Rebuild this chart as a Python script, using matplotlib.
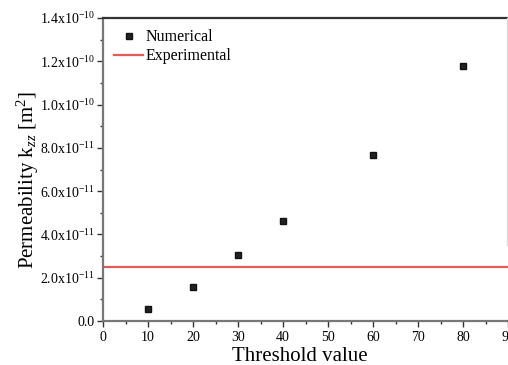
import math
import matplotlib
matplotlib.use("Agg")
import matplotlib.pyplot as plt
from matplotlib.ticker import FuncFormatter, MultipleLocator

plt.rcParams["font.family"] = ["Liberation Serif", "DejaVu Serif"]
plt.rcParams["mathtext.fontset"] = "custom"
plt.rcParams["mathtext.rm"] = "Liberation Serif"
plt.rcParams["mathtext.it"] = "Liberation Serif:italic"

# Data
thresholds = [10, 20, 30, 40, 60, 80]
permeability = [5.4e-12, 1.55e-11, 3.05e-11, 4.6e-11, 7.65e-11, 1.18e-10]
experimental = 2.5e-11

fig = plt.figure(figsize=(5.08, 3.65), dpi=100)
ax = fig.add_axes([0.2028, 0.1205, 0.8858, 0.8301])

ax.plot(thresholds, permeability, linestyle="none", marker="s", markersize=5,
        color="#222222", markeredgecolor="#111111", label="Numerical")
ax.axhline(experimental, color="#e65a5a", linewidth=1.6, label="Experimental")

ax.set_xlim(0, 100)
ax.set_ylim(0, 1.4e-10)
ax.xaxis.set_major_locator(MultipleLocator(10))
ax.xaxis.set_minor_locator(MultipleLocator(5))
ax.yaxis.set_major_locator(MultipleLocator(2e-11))
ax.yaxis.set_minor_locator(MultipleLocator(1e-11))


def sci_fmt(v, pos):
    if abs(v) < 1e-20:
        return "0.0"
    e = int(math.floor(math.log10(abs(v))))
    m = v / 10 ** e
    return "%.1fx10$^{%d}$" % (m, e)


ax.yaxis.set_major_formatter(FuncFormatter(sci_fmt))
ax.xaxis.set_major_formatter(FuncFormatter(lambda v, p: "%d" % v))

ax.tick_params(axis="both", which="major", direction="out", length=4, width=1,
               color="#333333", labelsize=10)
ax.tick_params(axis="both", which="minor", direction="out", length=2.5, width=1,
               color="#333333")
ax.tick_params(axis="y", pad=2)

for side in ["left", "bottom"]:
    ax.spines[side].set_color("#777777")
    ax.spines[side].set_linewidth(1.6)
ax.spines["top"].set_color("#333333")
ax.spines["top"].set_linewidth(1.6)
ax.spines["right"].set_visible(False)

# faint right border at the figure edge
fig.add_artist(plt.Line2D([0.998, 0.998], [0.33, 0.9507], color="#dddddd",
                          linewidth=1, transform=fig.transFigure))

ax.set_xlabel("Threshold value", fontsize=15)
ax.xaxis.set_label_coords(0.438, -0.085)
ax.set_ylabel("Permeability k$_{\\mathit{zz}}$ [m$^{2}$]", fontsize=15)
ax.yaxis.set_label_coords(-0.137, 0.467)

leg = ax.legend(loc="upper left", bbox_to_anchor=(0.0, 1.0), frameon=False,
                fontsize=11.5, handlelength=1.8, handletextpad=0.15,
                labelspacing=0.2, borderaxespad=0.3)

fig.savefig("out.png", dpi=100)
